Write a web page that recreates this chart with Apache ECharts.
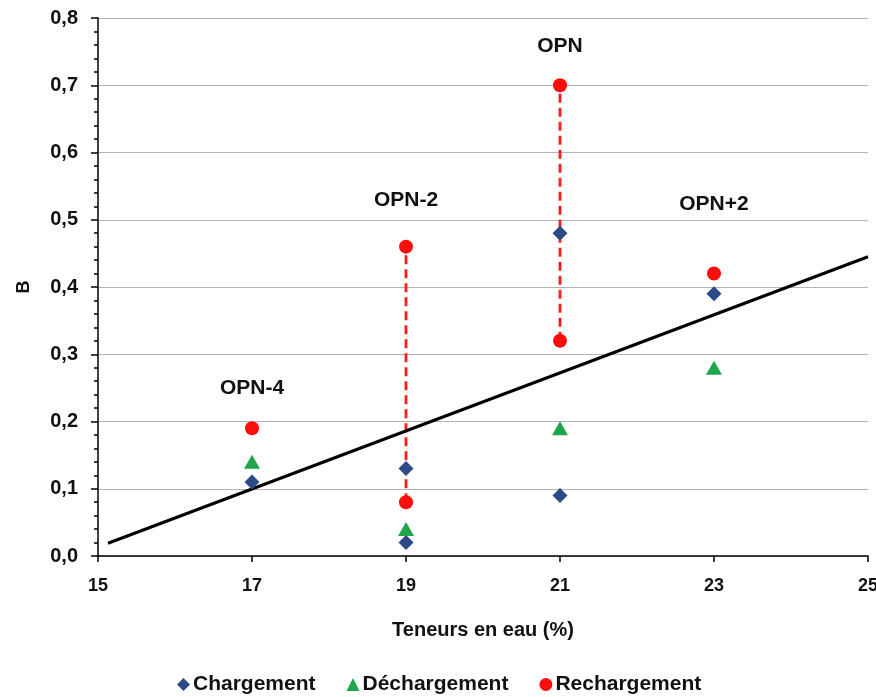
<!DOCTYPE html>
<html>
<head>
<meta charset="utf-8">
<script src="https://cdn.jsdelivr.net/npm/echarts@6/dist/echarts.min.js"></script>
<style>html,body{margin:0;padding:0;background:#fff;overflow:hidden;}#c{width:876px;height:697px;}</style>
</head>
<body>
<div id="c"></div>
<script>
// Data
var xTicks = [15, 17, 19, 21, 23, 25];
var chargementX = [17, 19, 19, 21, 21, 23];
var chargementY = [0.11, 0.13, 0.02, 0.48, 0.09, 0.39];
var dechargementX = [17, 19, 21, 23];
var dechargementY = [0.14, 0.04, 0.19, 0.28];
var rechargementX = [17, 19, 19, 21, 21, 23];
var rechargementY = [0.19, 0.46, 0.08, 0.70, 0.32, 0.42];
var trendX = [15.13, 25];
var trendY = [0.019, 0.445];
var groupNames = ['OPN-4', 'OPN-2', 'OPN', 'OPN+2'];
var groupX = [17, 19, 21, 23];
var groupLabelY = [0.25, 0.529, 0.758, 0.523];

function zip(xs, ys) { return xs.map(function (x, i) { return [x, ys[i]]; }); }

// dashed links between Rechargement points sharing the same x
var linkData = [];
(function () {
  var byX = {};
  rechargementX.forEach(function (x, i) { (byX[x] = byX[x] || []).push(rechargementY[i]); });
  Object.keys(byX).forEach(function (k) {
    var ys = byX[k];
    if (ys.length > 1) {
      if (linkData.length) linkData.push('-');
      linkData.push([+k, Math.min.apply(null, ys)]);
      linkData.push([+k, Math.max.apply(null, ys)]);
    }
  });
})();

var FONT = 'Liberation Sans, Arial, sans-serif';
var TXT = '#111111';

var chart = echarts.init(document.getElementById('c'), null, { renderer: 'canvas' });
chart.setOption({
  animation: false,
  backgroundColor: '#ffffff',
  textStyle: { fontFamily: FONT },
  grid: { left: 98, right: 8, top: 18, bottom: 141, containLabel: false, outerBoundsMode: 'none' },
  xAxis: {
    type: 'value', min: 15, max: 25, interval: 2,
    name: 'Teneurs en eau (%)', nameLocation: 'middle', nameGap: 64,
    nameTextStyle: { fontFamily: FONT, fontWeight: 'bold', fontSize: 20, color: TXT },
    axisLine: { show: true, onZero: false, lineStyle: { color: '#000', width: 1.5 } },
    axisTick: { show: true, inside: false, length: 6, lineStyle: { color: '#000', width: 1.5 } },
    axisLabel: { margin: 21, fontFamily: FONT, fontWeight: 'bold', fontSize: 18, color: TXT,
      formatter: function (v) { return xTicks.indexOf(v) >= 0 ? String(v) : ''; } },
    splitLine: { show: false }
  },
  yAxis: {
    type: 'value', min: 0, max: 0.8, interval: 0.1,
    name: 'B', nameLocation: 'middle', nameGap: 65, nameRotate: 90,
    nameTextStyle: { fontFamily: FONT, fontWeight: 'bold', fontSize: 18, color: TXT },
    axisLine: { show: true, onZero: false, lineStyle: { color: '#000', width: 1.5 } },
    axisTick: { show: true, inside: false, length: 7, lineStyle: { color: '#000', width: 1.5 } },
    minorTick: { show: true, splitNumber: 5, length: 4, lineStyle: { color: '#000', width: 1.5 } },
    axisLabel: { margin: 20, fontFamily: FONT, fontWeight: 'bold', fontSize: 20, color: TXT,
      formatter: function (v) { return v.toFixed(1).replace('.', ','); } },
    splitLine: { show: true, lineStyle: { color: '#b4b4b4', width: 1 } }
  },
  legend: {
    data: ['Chargement', 'Déchargement', 'Rechargement'],
    left: 172, top: 669, itemGap: 31, itemWidth: 13, itemHeight: 13,
    textStyle: { fontFamily: FONT, fontWeight: 'bold', fontSize: 21, color: TXT, padding: [0, 0, 0, -2] }
  },
  series: [
    {
      name: 'links', type: 'line', data: linkData, symbol: 'none', silent: true, z: 1,
      connectNulls: false,
      lineStyle: { color: '#ff1a1a', width: 2.8, type: [9, 5] }
    },
    {
      name: 'trend', type: 'line', data: zip(trendX, trendY), symbol: 'none', silent: true, z: 2,
      lineStyle: { color: '#000', width: 3 }
    },
    {
      name: 'Chargement', type: 'scatter', data: zip(chargementX, chargementY), z: 3,
      symbol: 'diamond', symbolSize: [15, 15], itemStyle: { color: '#2b4a86', opacity: 1 }
    },
    {
      name: 'Déchargement', type: 'scatter', data: zip(dechargementX, dechargementY), z: 3,
      symbol: 'triangle', symbolSize: [16, 14], itemStyle: { color: '#1fa64a', opacity: 1 }
    },
    {
      name: 'Rechargement', type: 'scatter', data: zip(rechargementX, rechargementY), z: 3,
      symbol: 'circle', symbolSize: 14, itemStyle: { color: '#ff0d0d', opacity: 1 }
    },
    {
      name: 'groups', type: 'scatter', silent: true, z: 4,
      data: groupNames.map(function (n, i) { return { name: n, value: [groupX[i], groupLabelY[i]] }; }),
      symbolSize: 0, itemStyle: { opacity: 1 },
      label: { show: true, position: 'inside', formatter: '{b}', fontFamily: FONT, fontWeight: 'bold', fontSize: 21, color: TXT }
    }
  ]
});
</script>
</body>
</html>
